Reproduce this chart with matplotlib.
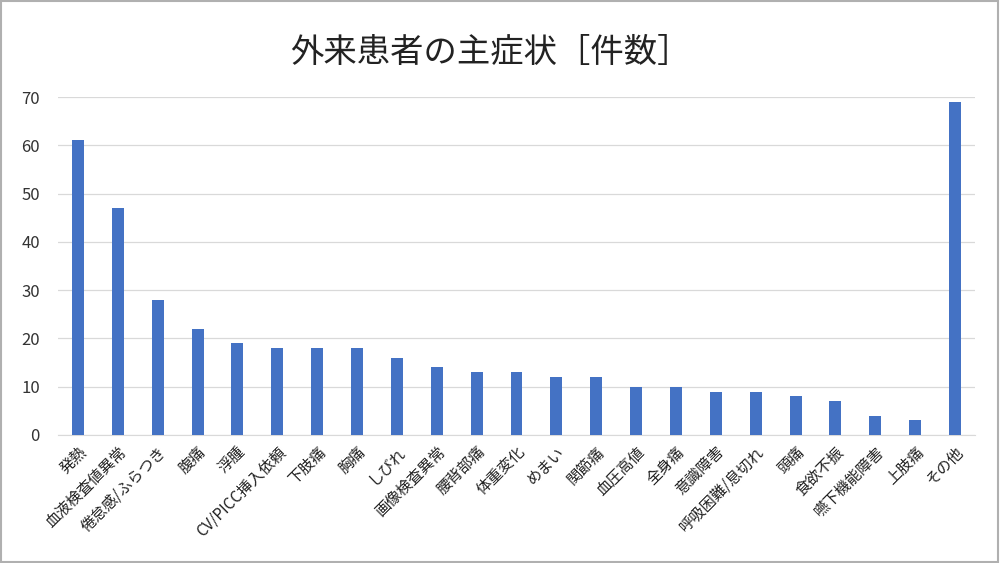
import matplotlib
matplotlib.use("Agg")
import matplotlib.pyplot as plt
from matplotlib.patches import Rectangle

plt.rcParams['font.family'] = ['Noto Sans CJK JP', 'DejaVu Sans']

categories = ["発熱", "血液検査値異常", "倦怠感/ふらつき", "腹痛", "浮腫", "CV/PICC挿入依頼",
              "下肢痛", "胸痛", "しびれ", "画像検査異常", "腰背部痛", "体重変化", "めまい",
              "関節痛", "血圧高値", "全身痛", "意識障害", "呼吸困難/息切れ", "頭痛",
              "食欲不振", "嚥下機能障害", "上肢痛", "その他"]
counts = [61, 47, 28, 22, 19, 18, 18, 18, 16, 14, 13, 13, 12, 12, 10, 10, 9, 9, 8, 7, 4, 3, 69]
yticks = [0, 10, 20, 30, 40, 50, 60, 70]
title = "外来患者の主症状［件数］"

fig = plt.figure(figsize=(10, 5.63), dpi=100)
ax = fig.add_axes([0.058, 0.2274, 0.917, 0.6003])

x = range(len(categories))
ax.bar(x, counts, width=0.3, color="#4472C4", zorder=3)
ax.set_xlim(-0.5, len(categories) - 0.5)
ax.set_ylim(0, 70)
ax.set_yticks(yticks)
ax.set_yticklabels([str(v) for v in yticks], fontsize=12, color="#333333")
ax.set_xticks(list(x))
ax.set_xticklabels(categories, rotation=45, ha="right", rotation_mode="anchor",
                   fontsize=11, color="#222222")
ax.tick_params(axis="both", length=0)
ax.tick_params(axis="y", pad=13)
ax.tick_params(axis="x", pad=6)
ax.grid(axis="y", color="#d9d9d9", linewidth=0.9, zorder=0)
for s in ["top", "right", "left"]:
    ax.spines[s].set_visible(False)
ax.spines["bottom"].set_color("#d9d9d9")

fig.text(0.49, 0.907, title, ha="center", va="center", fontsize=24, color="#222222")

# gray frame around the figure
fig.patches.append(Rectangle((0.001, 0.002), 0.997, 0.996, transform=fig.transFigure,
                             fill=False, edgecolor="#b0b0b0", linewidth=1.5))

fig.savefig("out.png", dpi=100)
